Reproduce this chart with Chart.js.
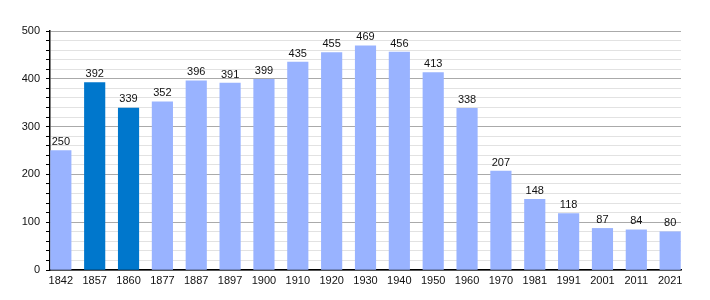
<!DOCTYPE html>
<html>
<head>
<meta charset="utf-8">
<script src="https://cdn.jsdelivr.net/npm/chart.js@4/dist/chart.umd.min.js"></script>
<style>
  html, body { margin: 0; padding: 0; background: #fff; }
  #wrap { width: 710px; height: 300px; position: relative; }
</style>
</head>
<body>
<div id="wrap"><canvas id="chart"></canvas></div>
<script>
const years = ['1842', '1857', '1860', '1877', '1887', '1897', '1900', '1910', '1920', '1930',
               '1940', '1950', '1960', '1970', '1981', '1991', '2001', '2011', '2021'];
const population = [250, 392, 339, 352, 396, 391, 399, 435, 455, 469,
                    456, 413, 338, 207, 148, 118, 87, 84, 80];
const highlighted = ['1857', '1860'];
const yTicks = [0, 100, 200, 300, 400, 500];

const LIGHT = '#99b3ff';
const DARK = '#0077cc';
const FONT = '"Liberation Sans", Arial, sans-serif';

// draws the value above each bar
const valueLabels = {
  id: 'valueLabels',
  afterDatasetsDraw(chart) {
    const ctx = chart.ctx;
    const meta = chart.getDatasetMeta(0);
    ctx.save();
    ctx.font = '11px ' + FONT;
    ctx.fillStyle = '#111';
    ctx.textAlign = 'center';
    ctx.textBaseline = 'bottom';
    meta.data.forEach((bar, i) => {
      ctx.fillText(String(population[i]), bar.x, bar.y - 3);
    });
    ctx.restore();
  }
};

new Chart(document.getElementById('chart'), {
  type: 'bar',
  data: {
    datasets: [{
      data: population.map((v, i) => ({ x: i, y: v })),
      backgroundColor: years.map(y => highlighted.includes(y) ? DARK : LIGHT),
      borderWidth: 0,
      barThickness: 20.5
    }]
  },
  options: {
    responsive: true,
    maintainAspectRatio: false,
    animation: false,
    layout: { padding: { left: 0, right: 29, top: 31, bottom: 0 } },
    plugins: { legend: { display: false }, tooltip: { enabled: false } },
    scales: {
      x: {
        type: 'linear',
        min: -0.32,
        max: years.length - 1 + 0.32,
        offset: false,
        grid: { display: false, drawTicks: false },
        border: { color: '#000', width: 1.5 },
        afterBuildTicks: s => { s.ticks = years.map((_, i) => ({ value: i })); },
        ticks: {
          color: '#111',
          font: { family: FONT, size: 11 },
          padding: 4,
          maxRotation: 0,
          autoSkip: false,
          callback: v => years[v]
        },
        afterFit: s => { s.height = 30; }
      },
      y: {
        min: 0,
        max: 500,
        border: { color: '#000', width: 1.5 },
        grid: {
          color: c => (c.tick && c.tick.value % 100 === 0) ? '#aaaaaa' : '#e2e2e2',
          tickColor: '#000',
          tickLength: 4,
          lineWidth: 1
        },
        ticks: {
          stepSize: 20,
          autoSkip: false,
          padding: 6,
          color: '#111',
          font: { family: FONT, size: 11 },
          callback: v => yTicks.includes(v) ? String(v) : ''
        },
        afterFit: s => { s.width = 50; }
      }
    }
  },
  plugins: [valueLabels]
});
</script>
</body>
</html>
